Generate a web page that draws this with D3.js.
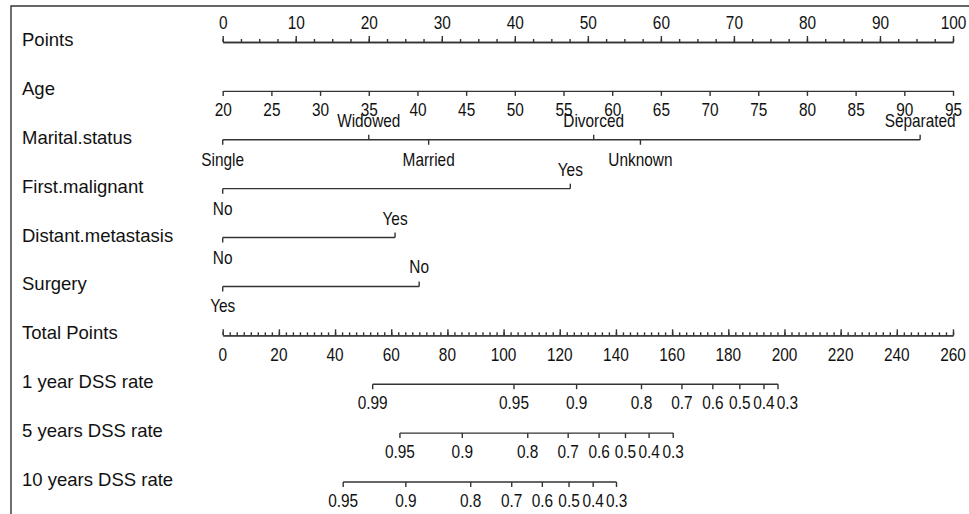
<!DOCTYPE html>
<html>
<head>
<meta charset="utf-8">
<script src="https://cdn.jsdelivr.net/npm/d3@7"></script>
<style>
  body { margin: 0; background: #fff; }
  svg { display: block; font-family: "Liberation Sans", Arial, Helvetica, sans-serif; }
  .frame, .axis line, .axis path, .var-line, .var-tick { stroke: #333; stroke-width: 1.4; fill: none; }
  text { fill: #111; }
</style>
</head>
<body>
<div id="chart"></div>
<script>
const rowNames = ["Points", "Age", "Marital.status", "First.malignant", "Distant.metastasis",
  "Surgery", "Total Points", "1 year DSS rate", "5 years DSS rate", "10 years DSS rate"];

const pointTicks = d3.range(0, 101, 10);
const ageTicks = d3.range(20, 96, 5);
const totalTicks = d3.range(0, 261, 20);

// categorical predictors: level names and their points
const maritalLevels = ["Single", "Widowed", "Married", "Divorced", "Unknown", "Separated"];
const maritalPoints = [0, 20.0, 28.2, 50.8, 57.2, 95.5];
const firstMalignantLevels = ["No", "Yes"];
const firstMalignantPoints = [0, 47.6];
const distantLevels = ["No", "Yes"];
const distantPoints = [0, 23.6];
const surgeryLevels = ["Yes", "No"];
const surgeryPoints = [0, 26.9];

// survival rates against total points
const dss1Labels = ["0.99", "0.95", "0.9", "0.8", "0.7", "0.6", "0.5", "0.4", "0.3"];
const dss1Points = [53.4, 103.7, 126.0, 149.1, 163.5, 174.5, 184.1, 192.7, 197.7];
const dss5Labels = ["0.95", "0.9", "0.8", "0.7", "0.6", "0.5", "0.4", "0.3"];
const dss5Points = [63.1, 85.3, 108.6, 123.0, 134.0, 143.4, 151.8, 160.4];
const dss10Labels = ["0.95", "0.9", "0.8", "0.7", "0.6", "0.5", "0.4", "0.3"];
const dss10Points = [42.9, 65.2, 88.3, 102.9, 113.8, 123.3, 131.9, 140.2];

const width = 969, height = 514;
const left = 222.7, right = 953;
const tickFont = 17.5;
const squeeze = 0.88; // source picture's small text is a little condensed

const svg = d3.select("#chart").append("svg")
  .attr("width", width)
  .attr("height", height);

// picture frame (top and left edges only)
svg.append("path")
  .attr("class", "frame")
  .attr("d", `M11,${height}V6H${width}`);

const y = d3.scalePoint().domain(rowNames).range([42, 482]);
const x = d3.scaleLinear().domain([0, 100]).range([left, right]);
const xAge = d3.scaleLinear().domain([20, 95]).range([left, right]);
const xTotal = d3.scaleLinear().domain([0, 260]).range([left, right]);

// row labels
svg.append("g").selectAll("text")
  .data(rowNames)
  .join("text")
  .attr("x", 22)
  .attr("y", d => y(d) + 4)
  .attr("font-size", 18.5)
  .text(d => d);

function styleAxis(g) {
  g.attr("font-family", null);
  g.selectAll("text")
    .attr("font-size", tickFont)
    .attr("fill", "#111")
    .attr("transform", `scale(${squeeze},1)`);
}

// small centred label
function label(g, data, fx, fy, ft) {
  return g.selectAll("text.lbl")
    .data(data)
    .join("text")
    .attr("class", "lbl")
    .attr("transform", (d, i) => `translate(${fx(d, i)},${fy(d, i)}) scale(${squeeze},1)`)
    .attr("text-anchor", "middle")
    .attr("font-size", tickFont)
    .text(ft);
}

// Points axis
svg.append("g")
  .attr("class", "axis")
  .attr("transform", `translate(0,${y("Points")})`)
  .call(d3.axisTop(x).tickValues(d3.range(0, 100.1, 2.5)).tickSize(3).tickSizeOuter(0).tickFormat(""));
svg.append("g")
  .attr("class", "axis")
  .attr("transform", `translate(0,${y("Points")})`)
  .call(d3.axisTop(x).tickValues(pointTicks).tickSize(6).tickSizeOuter(0).tickPadding(7))
  .call(styleAxis);

// Age axis
svg.append("g")
  .attr("class", "axis")
  .attr("transform", `translate(0,${y("Age")})`)
  .call(d3.axisBottom(xAge).tickValues(ageTicks).tickSize(5).tickSizeOuter(0).tickPadding(8))
  .call(styleAxis);

// categorical rows
function drawFactor(row, levels, pts) {
  const yy = y(row);
  const items = levels.map((name, i) => ({ name, p: pts[i] }))
    .sort((a, b) => a.p - b.p)
    .map((d, i) => ({ ...d, up: i % 2 === 1 }));
  const g = svg.append("g");
  g.append("line")
    .attr("class", "var-line")
    .attr("x1", x(d3.min(pts))).attr("x2", x(d3.max(pts)))
    .attr("y1", yy).attr("y2", yy);
  g.selectAll(".var-tick")
    .data(items)
    .join("line")
    .attr("class", "var-tick")
    .attr("x1", d => x(d.p)).attr("x2", d => x(d.p))
    .attr("y1", yy).attr("y2", d => d.up ? yy - 5 : yy + 5);
  label(g, items, d => x(d.p), d => d.up ? yy - 13 : yy + 26, d => d.name);
}
drawFactor("Marital.status", maritalLevels, maritalPoints);
drawFactor("First.malignant", firstMalignantLevels, firstMalignantPoints);
drawFactor("Distant.metastasis", distantLevels, distantPoints);
drawFactor("Surgery", surgeryLevels, surgeryPoints);

// Total Points axis
svg.append("g")
  .attr("class", "axis")
  .attr("transform", `translate(0,${y("Total Points")})`)
  .call(d3.axisTop(xTotal).tickValues(d3.range(0, 260.1, 2.5)).tickSize(3).tickSizeOuter(0).tickFormat(""));
svg.append("g")
  .attr("class", "axis")
  .attr("transform", `translate(0,${y("Total Points")})`)
  .call(d3.axisTop(xTotal).tickValues(totalTicks).tickSize(6).tickSizeOuter(0).tickFormat(""));
label(svg.append("g"), totalTicks, d => xTotal(d), () => y("Total Points") + 26, d => d);

// DSS rate rows
function drawRate(row, labels, pts) {
  const yy = y(row);
  const g = svg.append("g");
  g.append("line")
    .attr("class", "var-line")
    .attr("x1", xTotal(d3.min(pts))).attr("x2", xTotal(d3.max(pts)))
    .attr("y1", yy).attr("y2", yy);
  g.selectAll(".var-tick")
    .data(pts)
    .join("line")
    .attr("class", "var-tick")
    .attr("x1", d => xTotal(d)).attr("x2", d => xTotal(d))
    .attr("y1", yy).attr("y2", yy + 5);
  // push crowded labels rightwards so they don't collide
  const minSep = 23.5;
  let prev = -Infinity;
  const lx = pts.map(p => {
    const v = Math.max(xTotal(p), prev + minSep);
    prev = v;
    return v;
  });
  label(g, labels, (d, i) => lx[i], () => yy + 25, d => d);
}
drawRate("1 year DSS rate", dss1Labels, dss1Points);
drawRate("5 years DSS rate", dss5Labels, dss5Points);
drawRate("10 years DSS rate", dss10Labels, dss10Points);
</script>
</body>
</html>
